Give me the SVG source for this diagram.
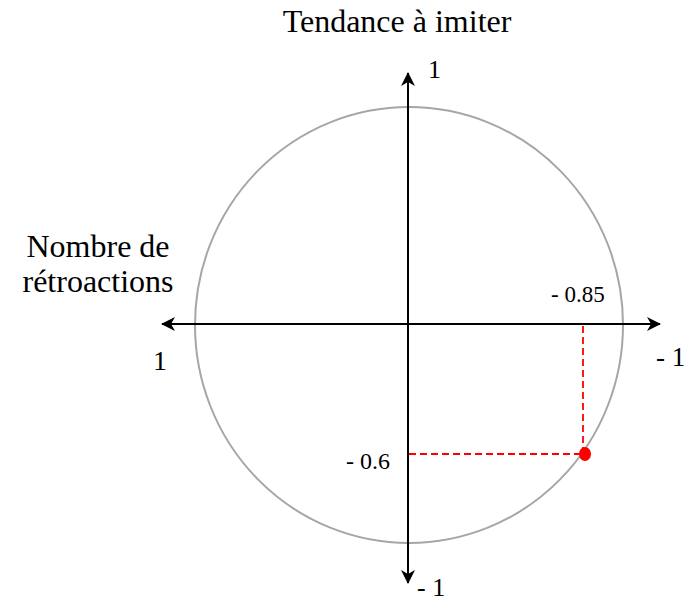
<svg xmlns="http://www.w3.org/2000/svg" width="689" height="601" viewBox="0 0 689 601">
<style>
text{font-family:"Liberation Serif","Times New Roman",serif;fill:#000}
.ax{stroke:#000;stroke-width:2;fill:none}
.rd{stroke:#ff0000;stroke-width:1.8;stroke-dasharray:7,4;fill:none}
</style>
<defs>
<marker id="ah" viewBox="0 0 14 14" refX="13" refY="7" markerWidth="14" markerHeight="14" markerUnits="userSpaceOnUse" orient="auto">
<path d="M0,0 L14,7 L0,14 L4,7 Z" fill="#000"/>
</marker>
</defs>
<rect width="689" height="601" fill="#fff"/>
<g id="circle">
<ellipse cx="409" cy="325" rx="214" ry="218" fill="none" stroke="#a6a6a6" stroke-width="2"/>
</g>
<g id="connectors">
<line class="ax" x1="408" y1="324" x2="660" y2="324" marker-end="url(#ah)"/>
<line class="ax" x1="408" y1="324" x2="162" y2="324" marker-end="url(#ah)"/>
<line class="ax" x1="408" y1="324" x2="408" y2="73" marker-end="url(#ah)"/>
<line class="ax" x1="408" y1="324" x2="408" y2="583" marker-end="url(#ah)"/>
<line class="rd" x1="583" y1="326" x2="583" y2="448"/>
<line class="rd" x1="409" y1="454" x2="580" y2="454"/>
</g>
<g id="point">
<ellipse cx="585" cy="454" rx="6" ry="7" fill="#ff0000"/>
</g>
<g id="labels">
<text x="397" y="32" font-size="32" text-anchor="middle">Tendance à imiter</text>
<text x="428" y="78" font-size="26">1</text>
<text x="98" y="257" font-size="32" text-anchor="middle">Nombre de</text>
<text x="98" y="292" font-size="32" text-anchor="middle">rétroactions</text>
<text x="153" y="370" font-size="28">1</text>
<text x="551" y="302" font-size="23">- 0.85</text>
<text x="656" y="366" font-size="27">- 1</text>
<text x="346" y="469" font-size="24">- 0.6</text>
<text x="417" y="596" font-size="26">- 1</text>
</g>
</svg>
